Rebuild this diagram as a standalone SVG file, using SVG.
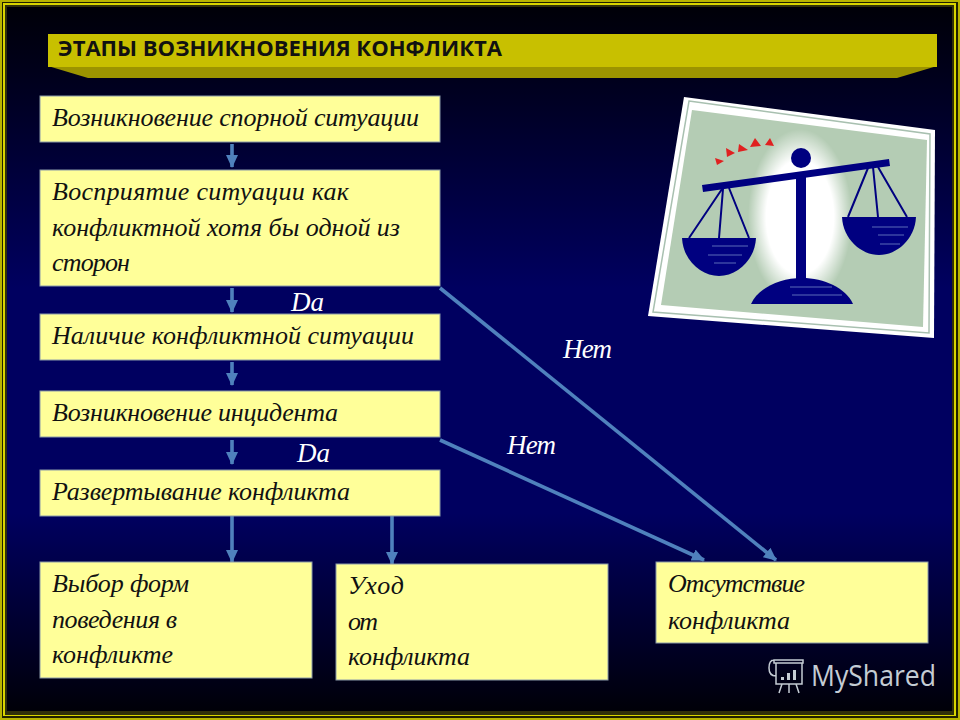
<svg xmlns="http://www.w3.org/2000/svg" width="960" height="720" viewBox="0 0 960 720">
<style>
.box{fill:#ffff99;stroke:#8a9aa8;stroke-width:1}
.t{font-family:"Liberation Serif","DejaVu Serif",serif;font-style:italic;font-size:26px;fill:#111}
.w{font-family:"Liberation Serif","DejaVu Serif",serif;font-style:italic;font-size:27px;fill:#fff}
.c{stroke:#4f81bd;stroke-width:3.6;fill:none}
.n{fill:#000080}
.s{stroke:#000080;stroke-width:2;fill:none}
.h{stroke:#5a6ab8;stroke-width:1.2;fill:none}
.r{fill:#e02020}
.g{fill:none;stroke:#c4ccd4;stroke-width:1.5}
</style>
<defs>
<linearGradient id="bg" x1="0" y1="0" x2="0" y2="1">
<stop offset="0" stop-color="#000008"/><stop offset=".1" stop-color="#00001c"/><stop offset=".4" stop-color="#000060"/><stop offset=".72" stop-color="#000060"/><stop offset=".9" stop-color="#000028"/><stop offset="1" stop-color="#000008"/>
</linearGradient>
<radialGradient id="glow"><stop offset="0" stop-color="#fff"/><stop offset=".65" stop-color="#fff"/><stop offset="1" stop-color="#fff" stop-opacity="0"/></radialGradient>
<marker id="a" markerWidth="13" markerHeight="12" refX="12" refY="6" orient="auto" markerUnits="userSpaceOnUse"><path d="M0 0L13 6L0 12Z" fill="#4f81bd"/></marker>
</defs>
<g id="background">
<rect width="960" height="720" fill="#b8b400"/>
<rect x="2" y="2" width="956" height="716" fill="#202000"/>
<rect x="3" y="3" width="953" height="713" fill="#d8d400"/>
<rect x="5" y="5" width="949" height="710" fill="#30300a"/>
<rect x="7" y="7" width="945" height="704" fill="url(#bg)"/>
</g>
<g id="title">
<polygon points="48,66 88,78 897,78 937,66" fill="#9c9400"/>
<rect x="48" y="34" width="889" height="33" fill="#c8c000"/>
<text x="58" y="56" font-family="'Open Sans','Liberation Sans',sans-serif" font-weight="700" font-size="21px" fill="#111" textLength="444" lengthAdjust="spacingAndGlyphs">ЭТАПЫ ВОЗНИКНОВЕНИЯ КОНФЛИКТА</text>
</g>
<g id="scales">
<polygon points="684,97 935,130 934,338 648,316" fill="#fff"/>
<polygon points="689,101 930,134 929,333 653,312" fill="none" stroke="#a8c0b0" stroke-width="1.5"/>
<polygon points="692,110 927,140 923,327 661,305" fill="#b4ccb4"/>
<ellipse cx="800" cy="217" rx="52" ry="88" fill="url(#glow)"/>
<polygon class="n" points="702,185 889,159 890,166 703,192"/>
<circle class="n" cx="801" cy="158" r="10"/>
<rect class="n" x="796" y="172" width="10" height="108"/>
<path class="n" d="M751 304C758 288 780 278 802 278C824 278 846 288 853 304Z"/>
<path class="n" d="M682 238H756C755 260 737 276 719 276C701 276 683 260 682 238Z"/>
<path class="n" d="M842 217H916C915 239 897 255 879 255C861 255 843 239 842 217Z"/>
<path class="s" d="M722 189L689 238M723 189L719 238M729 188L749 238M868 168L848 217M873 167L878 217M878 167L907 217"/>
<path class="h" d="M712 246H748M708 255H742M714 263H736M872 227H908M878 235H904M880 244H900M790 287H832M792 295H842"/>
<polygon class="r" points="715,158 724,161 717,165"/>
<polygon class="r" points="726,148 735,153 727,157"/>
<polygon class="r" points="739,144 748,150 738,152"/>
<polygon class="r" points="755,138 761,146 750,147"/>
<polygon class="r" points="770,138 774,146 765,145"/>
</g>
<g id="connectors">
<path class="c" d="M232 144V167" marker-end="url(#a)"/>
<path class="c" d="M232 288V312" marker-end="url(#a)"/>
<path class="c" d="M232 362V385" marker-end="url(#a)"/>
<path class="c" d="M232 440V464" marker-end="url(#a)"/>
<path class="c" d="M232 516V562" marker-end="url(#a)"/>
<path class="c" d="M392 516V564" marker-end="url(#a)"/>
<path class="c" d="M440 288L776 560" marker-end="url(#a)"/>
<path class="c" d="M440 440L704 560" marker-end="url(#a)"/>
</g>
<g id="n1"><rect class="box" x="40" y="96" width="400" height="46"/><text class="t" x="52" y="126" textLength="367">Возникновение спорной ситуации</text></g>
<g id="n2"><rect class="box" x="40" y="170" width="400" height="116"/><text class="t" x="52" y="200" textLength="297">Восприятие ситуации как</text><text class="t" x="52" y="236" textLength="348">конфликтной хотя бы одной из</text><text class="t" x="52" y="271" textLength="78">сторон</text></g>
<g id="n3"><rect class="box" x="40" y="314" width="400" height="46"/><text class="t" x="52" y="344" textLength="362">Наличие конфликтной ситуации</text></g>
<g id="n4"><rect class="box" x="40" y="391" width="400" height="46"/><text class="t" x="52" y="421" textLength="286">Возникновение инцидента</text></g>
<g id="n5"><rect class="box" x="40" y="470" width="400" height="46"/><text class="t" x="52" y="500" textLength="298">Развертывание конфликта</text></g>
<g id="n6"><rect class="box" x="40" y="562" width="272" height="116"/><text class="t" x="52" y="592" textLength="137">Выбор форм</text><text class="t" x="52" y="628" textLength="125">поведения в</text><text class="t" x="52" y="663" textLength="121">конфликте</text></g>
<g id="n7"><rect class="box" x="336" y="564" width="272" height="116"/><text class="t" x="348" y="594" textLength="56">Уход</text><text class="t" x="348" y="630" textLength="30">от</text><text class="t" x="348" y="665" textLength="122">конфликта</text></g>
<g id="n8"><rect class="box" x="656" y="562" width="272" height="81"/><text class="t" x="668" y="592" textLength="137">Отсутствие</text><text class="t" x="668" y="629" textLength="122">конфликта</text></g>
<g id="labels">
<text class="w" x="291" y="311" textLength="33">Da</text>
<text class="w" x="297" y="462" textLength="33">Da</text>
<text class="w" x="563" y="358" textLength="49">Нет</text>
<text class="w" x="507" y="454" textLength="49">Нет</text>
</g>
<g id="watermark">
<path class="g" d="M774 660H803V663H774ZM774 660C770 660 769 664 769 668C769 673 771 676 776 676M776 663V684H802V663M782 684L779 693M789 684V693M796 684L799 693"/>
<path d="M781 680h3v-3h-3zM787 680h3v-7h-3zM793 680h3v-10h-3z" fill="#c4ccd4"/>
<text x="811" y="686" font-family="'Open Sans','Noto Sans',sans-serif" font-size="30px" fill="#c4ccd4" textLength="125" lengthAdjust="spacingAndGlyphs">MyShared</text>
</g>
</svg>
